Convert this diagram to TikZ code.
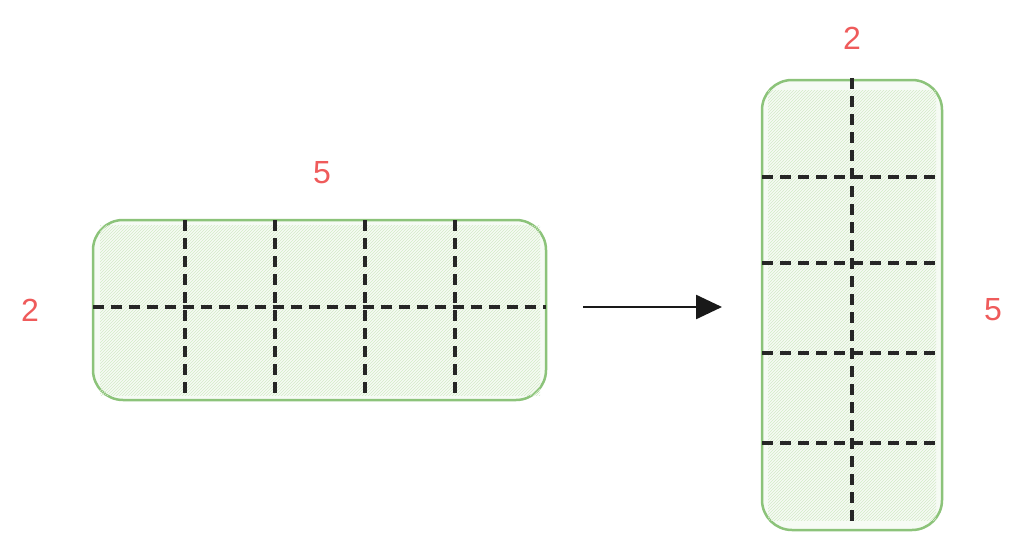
\documentclass[tikz,border=0pt]{standalone}
\usepackage{fontspec}
\setmainfont{Liberation Sans}
\usetikzlibrary{patterns,arrows.meta}
\definecolor{edge}{HTML}{8CC37A}
\definecolor{hatch}{HTML}{D3EAC8}
\definecolor{lbl}{HTML}{EF5B5B}
\tikzset{
  box/.style={draw=edge, line width=2.5pt, fill=hatch!20, rounded corners=30pt},
  cut/.style={draw=black!85, line width=3.5pt, dash pattern=on 11pt off 7pt},
  lab/.style={text=lbl, font=\fontsize{32}{34}\selectfont},
  conn/.style={draw=black!90, line width=2.5pt, -{Triangle[length=26pt,width=24pt]}}
}
\begin{document}
\begin{tikzpicture}[x=1pt,y=-1pt]
\useasboundingbox (0,0) rectangle (1024,551);
% left
\path[box] (93,220) rectangle (546,400);
\path[pattern=north east lines, pattern color=hatch] (100,225) rectangle (540,395);
\foreach \x in {185,275,365,455} \draw[cut] (\x,220) -- (\x,400);
\draw[cut] (93,307) -- (546,307);
\node[lab] (t1) at (322,173) {5};
\node[lab] (s1) at (30,310) {2};
% arrow
\coordinate (a1) at (583,307);
\coordinate (a2) at (722,307);
\draw[conn] (a1) -- (a2);
% right
\path[box] (762,80) rectangle (942,530);
\path[pattern=north east lines, pattern color=hatch] (768,90) rectangle (936,520);
\draw[cut] (852,78) -- (852,522);
\foreach \y in {177,263,353,443} \draw[cut] (762,\y) -- (942,\y);
\node[lab] (t2) at (852,38) {2};
\node[lab] (s2) at (993,310) {5};
\end{tikzpicture}
\end{document}
